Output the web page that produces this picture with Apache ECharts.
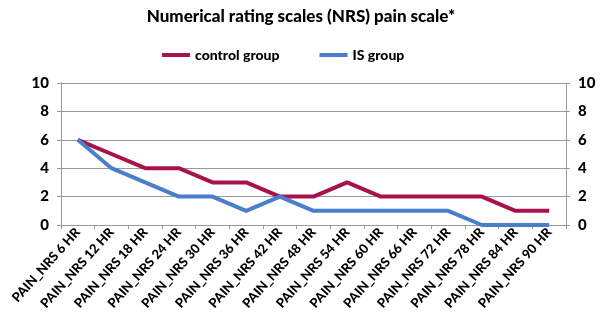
<!DOCTYPE html>
<html>
<head>
<meta charset="utf-8">
<script src="https://cdn.jsdelivr.net/npm/echarts@6/dist/echarts.min.js"></script>
<style>
  html, body { margin: 0; padding: 0; background: #fff; }
  #chart { width: 602px; height: 328px; }
</style>
</head>
<body>
<div id="chart"></div>
<script>
const categories = [
  "PAIN_NRS 6 HR", "PAIN_NRS 12 HR", "PAIN_NRS 18 HR", "PAIN_NRS 24 HR",
  "PAIN_NRS 30 HR", "PAIN_NRS 36 HR", "PAIN_NRS 42 HR", "PAIN_NRS 48 HR",
  "PAIN_NRS 54 HR", "PAIN_NRS 60 HR", "PAIN_NRS 66 HR", "PAIN_NRS 72 HR",
  "PAIN_NRS 78 HR", "PAIN_NRS 84 HR", "PAIN_NRS 90 HR"
];
const controlGroup = [6, 5, 4, 4, 3, 3, 2, 2, 3, 2, 2, 2, 2, 1, 1];
const isGroup = [6, 4, 3, 2, 2, 1, 2, 1, 1, 1, 1, 1, 0, 0, 0];
const seriesNames = ["control group", "IS group"];

const chart = echarts.init(document.getElementById("chart"));
const font = "Lato, 'Open Sans', sans-serif";

const yAxisBase = {
  type: "value",
  min: 0,
  max: 10,
  interval: 2,
  axisLine: { show: true, lineStyle: { color: "#999", width: 1 } },
  axisTick: { show: true, length: 4, lineStyle: { color: "#999" } },
  axisLabel: { color: "#000", fontFamily: font, fontWeight: 900, fontSize: 15, margin: 12 },
  splitLine: { show: true, lineStyle: { color: "#999", width: 1 } }
};

chart.setOption({
  animation: false,
  title: {
    text: "Numerical rating scales (NRS) pain scale*",
    left: "center",
    top: 3,
    textStyle: { fontFamily: font, fontWeight: 900, fontSize: 17, color: "#000" }
  },
  legend: {
    top: 43,
    left: 157,
    itemWidth: 28,
    itemHeight: 4,
    itemGap: 40,
    icon: "rect",
    textStyle: { fontFamily: font, fontWeight: 900, fontSize: 14, color: "#000" },
    data: seriesNames
  },
  grid: { left: 61, right: 36, top: 83, bottom: 103 },
  xAxis: {
    type: "category",
    data: categories,
    boundaryGap: true,
    axisLine: { lineStyle: { color: "#999", width: 1 } },
    axisTick: { show: true, length: 4, lineStyle: { color: "#999" } },
    axisLabel: {
      interval: 0,
      rotate: 48,
      color: "#000",
      fontFamily: font,
      fontWeight: 900,
      fontSize: 13,
      margin: 5
    }
  },
  yAxis: [
    Object.assign({}, yAxisBase, { position: "left" }),
    Object.assign({}, yAxisBase, { position: "right", splitLine: { show: false } })
  ],
  series: [
    {
      name: seriesNames[0],
      type: "line",
      data: controlGroup,
      symbol: "none",
      lineStyle: { color: "#A8124B", width: 4 },
      itemStyle: { color: "#A8124B" }
    },
    {
      name: seriesNames[1],
      type: "line",
      data: isGroup,
      symbol: "none",
      lineStyle: { color: "#4A7DCB", width: 4 },
      itemStyle: { color: "#4A7DCB" }
    }
  ]
});
</script>
</body>
</html>
